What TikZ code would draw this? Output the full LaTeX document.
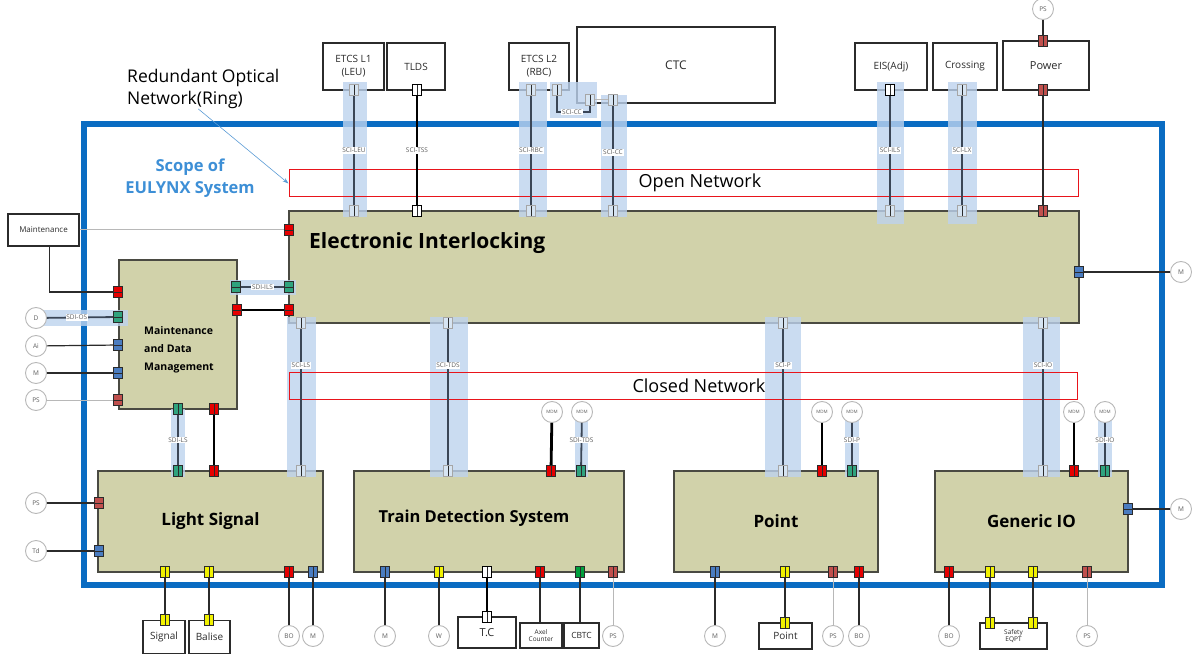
\documentclass[tikz,border=0pt]{standalone}
\usepackage{fontspec}
\setmainfont{Open Sans}
\usepackage{tikz}
\usetikzlibrary{arrows.meta,positioning,calc}
\definecolor{ink}{HTML}{2B2B2B}
\definecolor{inksoft}{HTML}{5E5E5E}
\definecolor{framebl}{HTML}{0A6CC2}
\definecolor{scopebl}{HTML}{3D8FD6}
\definecolor{arrowbl}{HTML}{5B9BD5}
\definecolor{boxfill}{HTML}{D1D2AA}
\definecolor{boxbd}{HTML}{4A4A42}
\definecolor{bandbl}{HTML}{BDD3EE}
\definecolor{linkink}{HTML}{3B4656}
\definecolor{netred}{HTML}{E8141B}
\definecolor{portpale}{HTML}{D6E4F2}
\definecolor{portred}{HTML}{E60000}
\definecolor{portdark}{HTML}{C0504D}
\definecolor{portblue}{HTML}{4A7CC0}
\definecolor{portteal}{HTML}{2FA37E}
\definecolor{portgreen}{HTML}{00A03C}
\definecolor{portyel}{HTML}{F2F200}
\definecolor{circbd}{HTML}{B8B8B8}
\tikzset{
  sysbox/.style={rectangle,draw=boxbd,line width=1.2pt,fill=boxfill,inner sep=0pt,
    font=\fontsize{17}{20}\selectfont\bfseries,text=black},
  eititle/.style={font=\fontsize{21}{24}\selectfont\bfseries,text=black,inner sep=0pt},
  systitle/.style={font=\fontsize{16.5}{20}\selectfont\bfseries,text=black,inner sep=0pt},
  mdmtitle/.style={font=\fontsize{10.5}{18}\selectfont\bfseries,text=black,align=left,inner sep=0pt},
  extbox/.style={rectangle,draw=ink,line width=1.3pt,fill=white,align=center,
    font=\fontsize{10}{13}\selectfont,text=ink,inner sep=1pt},
  devbox/.style={rectangle,draw=ink,line width=1.2pt,fill=white,align=center,
    font=\fontsize{10}{11}\selectfont,text=ink,inner sep=0pt},
  tinybox/.style={devbox,font=\fontsize{6.5}{6.5}\selectfont},
  devcirc/.style={circle,draw=circbd,line width=0.9pt,fill=white,minimum size=21pt,
    inner sep=0pt,font=\fontsize{6.5}{7}\selectfont,text=inksoft},
  mdmcirc/.style={devcirc,font=\fontsize{4.5}{5}\selectfont},
  portbox/.style={rectangle,draw=ink,line width=0.6pt,inner sep=0pt,
    minimum width=9pt,minimum height=11pt},
  vport/.style={portbox,path picture={\draw[line width=0.5pt,ink]
    (path picture bounding box.north) -- (path picture bounding box.south);}},
  hport/.style={portbox,path picture={\draw[line width=0.5pt,ink]
    (path picture bounding box.west) -- (path picture bounding box.east);}},
  palep/.style={fill=portpale,draw=gray!70},
  whitep/.style={fill=white,draw=black},
  redp/.style={fill=portred},
  darkp/.style={fill=portdark},
  bluep/.style={fill=portblue},
  tealp/.style={fill=portteal},
  greenp/.style={fill=portgreen},
  yelp/.style={fill=portyel},
  sciband/.style={fill=bandbl,fill opacity=0.8},
  netbox/.style={rectangle,draw=netred,line width=1pt,inner sep=0pt},
  nettxt/.style={font=\fontsize{18}{20}\selectfont,text=black,inner sep=0pt},
  scilink/.style={draw=linkink,line width=1.8pt},
  boldlink/.style={draw=black,line width=2.8pt},
  plainlink/.style={draw=ink,line width=1.2pt},
  greylink/.style={draw=circbd,line width=1pt},
  scilabel/.style={fill=white,font=\fontsize{6.5}{7}\selectfont,text=inksoft,inner sep=0.8pt},
}

\begin{document}
\begin{tikzpicture}[x=1pt,y=-1pt]
  \useasboundingbox (0,0) rectangle (1192,655);
  % scope of the system
  \draw[framebl,line width=5.5pt] (84,124) rectangle (1162,585);
  \node[font=\fontsize{16.5}{22}\selectfont\bfseries,text=scopebl,align=center] (scope) at (190,178) {Scope of\\EULYNX System};
  \node[font=\fontsize{17.5}{22}\selectfont,align=left,inner sep=0pt,anchor=west] (ring) at (127,89) {Redundant Optical\\Network(Ring)};

  % outside systems
  \node[extbox,minimum width=61pt,minimum height=47pt] (etcs1) at (353.5,66.5) {ETCS L1\\(LEU)};
  \node[extbox,minimum width=58pt,minimum height=47pt] (tlds) at (416,66.5) {TLDS};
  \node[extbox,minimum width=60pt,minimum height=47pt] (etcs2) at (539,66.5) {ETCS L2\\(RBC)};
  \node[extbox,minimum width=198pt,minimum height=76pt,font=\fontsize{12}{14}\selectfont] (ctc) at (676,65) {CTC};
  \node[extbox,minimum width=72pt,minimum height=47pt] (eis) at (891,66.5) {EIS(Adj)};
  \node[extbox,minimum width=64pt,minimum height=47pt] (xing) at (965,66.5) {Crossing};
  \node[extbox,minimum width=86pt,minimum height=49pt,font=\fontsize{11}{13}\selectfont] (power) at (1046,65.5) {Power};
  \node[extbox,minimum width=71pt,minimum height=32pt,font=\fontsize{8}{10}\selectfont] (mnt) at (43.5,230) {Maintenance};

  % subsystems
  \node[sysbox,minimum width=790pt,minimum height=112pt] (ei) at (684,267) {};
  \node[eititle,anchor=west] (eitxt) at (309,243) {Electronic Interlocking};
  \node[sysbox,minimum width=118pt,minimum height=149pt] (mdm) at (178,334.5) {};
  \node[mdmtitle] (mdmtxt) at (179,350) {Maintenance\\and Data\\Management};
  \node[sysbox,minimum width=225pt,minimum height=101pt] (ls) at (210.5,521.5) {Light Signal};
  \node[sysbox,minimum width=270pt,minimum height=101pt] (tds) at (489,521.5) {};
  \node[systitle] (tdstxt) at (474,518) {Train Detection System};
  \node[sysbox,minimum width=204pt,minimum height=101pt] (pt) at (776,521.5) {Point};
  \node[sysbox,minimum width=193pt,minimum height=101pt] (gio) at (1031.5,521.5) {Generic IO};

  % interface bands
  \fill[sciband] (343,82) rectangle (367,217);
  \fill[sciband] (519,82) rectangle (547,217);
  \fill[sciband] (550,82) rectangle (597,118);
  \fill[sciband] (601,95) rectangle (627,217);
  \fill[sciband] (877,82) rectangle (904,224);
  \fill[sciband] (948,82) rectangle (977,224);
  \fill[sciband] (230,280) rectangle (296,295);
  \fill[sciband] (44,310) rectangle (128,326);
  \fill[sciband] (287,317) rectangle (316,477);
  \fill[sciband] (430,317) rectangle (468,477);
  \fill[sciband] (765,317) rectangle (801,477);
  \fill[sciband] (1023,317) rectangle (1060,477);
  \fill[sciband] (171,409) rectangle (185,477);
  \fill[sciband] (575,420) rectangle (588,477);
  \fill[sciband] (845,420) rectangle (859,477);
  \fill[sciband] (1098,420) rectangle (1112,477);

  % networks
  \node[netbox,minimum width=789pt,minimum height=27pt] (opennet) at (683.5,183.5) {};
  \node[nettxt] (opentxt) at (700,183) {Open Network};
  \node[netbox,minimum width=788pt,minimum height=27pt] (closednet) at (683,385.5) {};
  \node[nettxt] (closedtxt) at (699,386) {Closed Network};
  \draw[-{Stealth[length=6pt,width=4pt]},arrowbl,line width=0.6pt] ([xshift=-5pt]ring.south) -- (opennet.west);

  % ports, top
  \node[vport,palep] (pLeuA) at (354,90) {};
  \node[vport,palep] (pLeuB) at (354,211) {};
  \node[vport,whitep] (pTssA) at (417,90) {};
  \node[vport,whitep] (pTssB) at (417,211) {};
  \node[vport,palep] (pRbcA) at (531,90) {};
  \node[vport,palep] (pRbcB) at (531,211) {};
  \node[vport,palep] (pRbcCc) at (557,90) {};
  \node[vport,palep] (pCtcCc) at (590,100) {};
  \node[vport,palep] (pCcA) at (613,100) {};
  \node[vport,palep] (pCcB) at (613,211) {};
  \node[vport,whitep] (pIlsA) at (890,90) {};
  \node[vport,palep] (pIlsB) at (890,211) {};
  \node[vport,palep] (pLxA) at (962,90) {};
  \node[vport,palep] (pLxB) at (962,211) {};
  \node[vport,darkp] (pPwrT) at (1043,41) {};
  \node[vport,darkp] (pPwrA) at (1043,90) {};
  \node[vport,darkp] (pPwrB) at (1043,211) {};
  \node[devcirc] (cPsPwr) at (1043,9) {PS};

  % ports, interlocking sides
  \node[hport,redp] (pEiMnt) at (289,230) {};
  \node[hport,tealp] (pEiSdi) at (289,287) {};
  \node[hport,redp] (pEiRed) at (289,310) {};
  \node[hport,bluep] (pEiM) at (1079,272) {};
  \node[devcirc] (cMEi) at (1181,272) {M};
  \node[vport,palep] (pEiLs) at (301,323) {};
  \node[vport,palep] (pEiTds) at (448,323) {};
  \node[vport,palep] (pEiP) at (783,323) {};
  \node[vport,palep] (pEiIo) at (1043,323) {};

  % maintenance and data management
  \node[hport,redp] (pMdmMnt) at (118,292) {};
  \node[hport,tealp] (pMdmSdi) at (236,287) {};
  \node[hport,redp] (pMdmRed) at (237,310) {};
  \node[hport,tealp] (pMdmD) at (118,317) {};
  \node[hport,bluep] (pMdmAi) at (118,345) {};
  \node[hport,bluep] (pMdmM) at (118,373) {};
  \node[hport,darkp] (pMdmPs) at (118,400) {};
  \node[vport,tealp] (pMdmLs) at (178,409) {};
  \node[vport,redp] (pMdmLsR) at (214,409) {};
  \node[devcirc] (cD) at (36,318) {D};
  \node[devcirc] (cAi) at (36,346) {Ai};
  \node[devcirc] (cMMdm) at (36,373) {M};
  \node[devcirc] (cPsMdm) at (36,400) {PS};

  % light signal
  \node[vport,tealp] (pLsSdi) at (178,471) {};
  \node[vport,redp] (pLsRed) at (214,471) {};
  \node[vport,palep] (pLsSci) at (301,471) {};
  \node[hport,darkp] (pLsPs) at (99,503) {};
  \node[hport,bluep] (pLsTd) at (99,551) {};
  \node[vport,yelp] (pLsSig) at (165,572) {};
  \node[vport,yelp] (pLsBal) at (209,572) {};
  \node[vport,redp] (pLsBo) at (289,572) {};
  \node[vport,bluep] (pLsM) at (313,572) {};
  \node[devcirc] (cPsLs) at (36,503) {PS};
  \node[devcirc] (cTd) at (36,551) {Td};
  \node[devcirc] (cBoLs) at (289,636) {BO};
  \node[devcirc] (cMLs) at (313,636) {M};
  \node[devbox,minimum width=42pt,minimum height=33pt] (signal) at (164,637) {Signal};
  \node[devbox,minimum width=41pt,minimum height=33pt] (balise) at (209.5,637) {Balise};
  \node[vport,yelp] (pSig) at (165,620) {};
  \node[vport,yelp] (pBal) at (209,620) {};

  % train detection system
  \node[vport,palep] (pTdsSci) at (448,471) {};
  \node[vport,redp] (pTdsMdm) at (551,471) {};
  \node[vport,tealp] (pTdsSdi) at (581,471) {};
  \node[vport,bluep] (pTdsM) at (385,572) {};
  \node[vport,yelp] (pTdsW) at (439,572) {};
  \node[vport,whitep] (pTdsTc) at (487,572) {};
  \node[vport,redp] (pTdsAx) at (540,572) {};
  \node[vport,greenp] (pTdsCb) at (580,572) {};
  \node[vport,darkp] (pTdsPs) at (613,572) {};
  \node[mdmcirc] (cMdmT1) at (552,412) {MDM};
  \node[mdmcirc] (cMdmT2) at (582,412) {MDM};
  \node[devcirc] (cMTds) at (385,636) {M};
  \node[devcirc] (cW) at (439,636) {W};
  \node[devcirc] (cPsTds) at (613,636) {PS};
  \node[devbox,minimum width=58pt,minimum height=31pt,font=\fontsize{11}{12}\selectfont] (tc) at (487,632.5) {T.C};
  \node[tinybox,minimum width=42pt,minimum height=25pt] (axel) at (541,635.5) {Axel\\Counter};
  \node[devbox,minimum width=35pt,minimum height=25pt,font=\fontsize{8.5}{9}\selectfont] (cbtc) at (581.5,635.5) {CBTC};
  \node[vport,whitep] (pTc) at (487,617) {};

  % point
  \node[vport,palep] (pPtSci) at (783,471) {};
  \node[vport,redp] (pPtMdm) at (822,471) {};
  \node[vport,tealp] (pPtSdi) at (852,471) {};
  \node[vport,bluep] (pPtM) at (715,572) {};
  \node[vport,yelp] (pPtPt) at (785,572) {};
  \node[vport,darkp] (pPtPs) at (833,572) {};
  \node[vport,redp] (pPtBo) at (859,572) {};
  \node[mdmcirc] (cMdmP1) at (822,412) {MDM};
  \node[mdmcirc] (cMdmP2) at (852,412) {MDM};
  \node[devcirc] (cMPt) at (715,636) {M};
  \node[devcirc] (cPsPt) at (833,636) {PS};
  \node[devcirc] (cBoPt) at (859,636) {BO};
  \node[devbox,minimum width=53pt,minimum height=26pt] (ptdev) at (785.5,636) {Point};
  \node[vport,yelp] (pPtDev) at (785,623) {};

  % generic io
  \node[vport,palep] (pIoSci) at (1043,471) {};
  \node[vport,redp] (pIoMdm) at (1074,471) {};
  \node[vport,tealp] (pIoSdi) at (1105,471) {};
  \node[hport,bluep] (pIoM) at (1128,509) {};
  \node[vport,redp] (pIoBo) at (949,572) {};
  \node[vport,yelp] (pIoY1) at (990,572) {};
  \node[vport,yelp] (pIoY2) at (1033,572) {};
  \node[vport,darkp] (pIoPs) at (1087,572) {};
  \node[mdmcirc] (cMdmI1) at (1074,412) {MDM};
  \node[mdmcirc] (cMdmI2) at (1105,412) {MDM};
  \node[devcirc] (cMIo) at (1181,509) {M};
  \node[devcirc] (cBoIo) at (949,636) {BO};
  \node[devcirc] (cPsIo) at (1087,636) {PS};
  \node[tinybox,minimum width=67pt,minimum height=26pt] (safety) at (1013.5,636) {Safety\\EQPT};
  \node[vport,yelp] (pSaf1) at (990,623) {};
  \node[vport,yelp] (pSaf2) at (1033,623) {};

  % open network links
  \draw[scilink] (pLeuA) -- (pLeuB) node[scilabel,midway] {SCI-LEU};
  \draw[boldlink] (pTssA) -- (pTssB) node[scilabel,midway] {SCI-TSS};
  \draw[scilink] (pRbcA) -- (pRbcB) node[scilabel,midway] {SCI-RBC};
  \draw[scilink] (pRbcCc) -- ++(0,22) -| (pCtcCc);
  \node[scilabel] (cctxt) at (572,112) {SCI-CC};
  \draw[greylink] (pCtcCc) -- (pCcA);
  \draw[scilink] (pCcA) -- (pCcB) node[scilabel,pos=0.47] {SCI-CC};
  \draw[scilink] (pIlsA) -- (pIlsB) node[scilabel,midway] {SCI-ILS};
  \draw[scilink] (pLxA) -- (pLxB) node[scilabel,midway] {SCI-LX};
  \draw[plainlink] (cPsPwr) -- (pPwrT);
  \draw[plainlink] (pPwrA) -- (pPwrB);
  \draw[plainlink] (pEiM) -- (cMEi);

  % maintenance side
  \draw[greylink] (mnt) -- (pEiMnt);
  \draw[plainlink] ([xshift=6pt]mnt.south) |- (pMdmMnt);
  \draw[scilink] (pMdmSdi) -- (pEiSdi) node[scilabel,midway] {SDI-ILS};
  \draw[boldlink] (pMdmRed) -- (pEiRed);
  \draw[scilink] (cD) -- (pMdmD) node[scilabel,pos=0.45] {SDI-OS};
  \draw[plainlink] (cAi) -- (pMdmAi);
  \draw[plainlink] (cMMdm) -- (pMdmM);
  \draw[greylink] (cPsMdm) -- (pMdmPs);
  \draw[scilink] (pMdmLs) -- (pLsSdi) node[scilabel,midway] {SDI-LS};
  \draw[boldlink] (pMdmLsR) -- (pLsRed);

  % closed network links
  \draw[scilink] (pEiLs) -- (pLsSci) node[scilabel,pos=0.27] {SCI-LS};
  \draw[scilink] (pEiTds) -- (pTdsSci) node[scilabel,pos=0.27] {SCI-TDS};
  \draw[scilink] (pEiP) -- (pPtSci) node[scilabel,pos=0.27] {SCI-P};
  \draw[scilink] (pEiIo) -- (pIoSci) node[scilabel,pos=0.27] {SCI-IO};
  \draw[boldlink] (cMdmT1) -- (pTdsMdm);
  \draw[scilink] (cMdmT2) -- (pTdsSdi) node[scilabel,pos=0.4] {SDI-TDS};
  \draw[boldlink] (cMdmP1) -- (pPtMdm);
  \draw[scilink] (cMdmP2) -- (pPtSdi) node[scilabel,pos=0.4] {SDI-P};
  \draw[boldlink] (cMdmI1) -- (pIoMdm);
  \draw[scilink] (cMdmI2) -- (pIoSdi) node[scilabel,pos=0.4] {SDI-IO};

  % field elements
  \draw[plainlink] (cPsLs) -- (pLsPs);
  \draw[plainlink] (cTd) -- (pLsTd);
  \draw[plainlink] (pLsSig) -- (pSig);
  \draw[plainlink] (pLsBal) -- (pBal);
  \draw[plainlink] (pLsBo) -- (cBoLs);
  \draw[plainlink] (pLsM) -- (cMLs);
  \draw[plainlink] (pTdsM) -- (cMTds);
  \draw[plainlink] (pTdsW) -- (cW);
  \draw[boldlink] (pTdsTc) -- (pTc);
  \draw[plainlink] (pTdsAx) -- (pTdsAx |- axel.north);
  \draw[plainlink] (pTdsCb) -- (pTdsCb |- cbtc.north);
  \draw[greylink] (pTdsPs) -- (cPsTds);
  \draw[plainlink] (pPtM) -- (cMPt);
  \draw[plainlink] (pPtPt) -- (pPtDev);
  \draw[greylink] (pPtPs) -- (cPsPt);
  \draw[plainlink] (pPtBo) -- (cBoPt);
  \draw[plainlink] (pIoM) -- (cMIo);
  \draw[plainlink] (pIoBo) -- (cBoIo);
  \draw[plainlink] (pIoY1) -- (pSaf1);
  \draw[plainlink] (pIoY2) -- (pSaf2);
  \draw[greylink] (pIoPs) -- (cPsIo);
\end{tikzpicture}
\end{document}
